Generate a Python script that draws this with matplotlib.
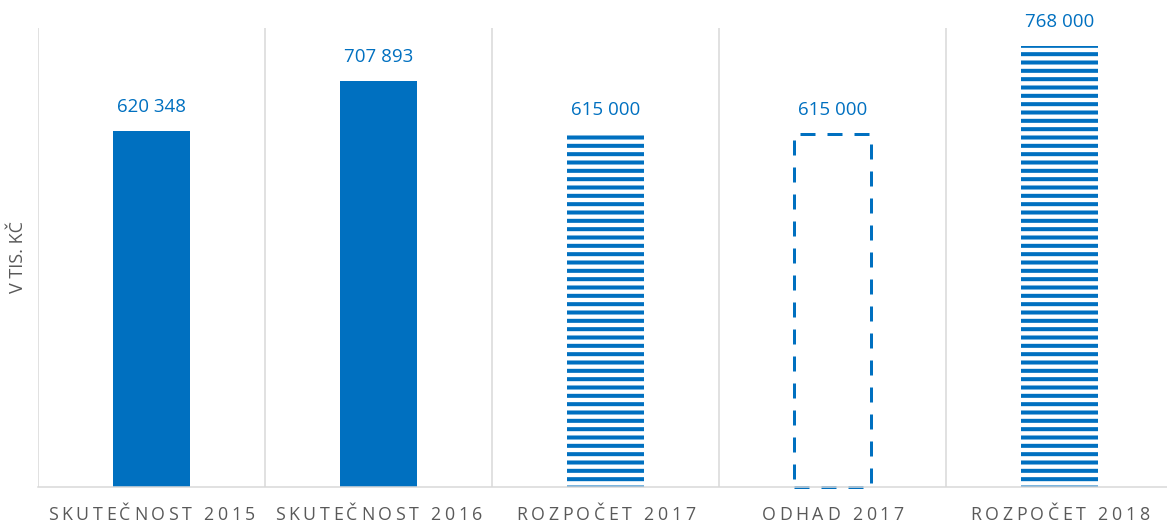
import matplotlib
matplotlib.use("Agg")
import matplotlib.pyplot as plt
from matplotlib.font_manager import FontProperties
from matplotlib.textpath import TextToPath

categories = ["SKUTEČNOST 2015", "SKUTEČNOST 2016", "ROZPOČET 2017", "ODHAD 2017", "ROZPOČET 2018"]
values = [620348, 707893, 615000, 615000, 768000]
value_labels = ["620 348", "707 893", "615 000", "615 000", "768 000"]
styles = ["solid", "solid", "hatch", "dashed", "hatch"]
y_label = "V TIS. KČ"

BLUE = "#0070C0"
GRAY = "#595959"
GRID = "#D9D9D9"
DPI = 100

plt.rcParams['hatch.linewidth'] = 2.9
plt.rcParams['font.family'] = ['Open Sans', 'DejaVu Sans']

fig = plt.figure(figsize=(11.67, 5.24), dpi=DPI)
ax = fig.add_axes([38 / 1167, 1 - 487 / 524, (1173 - 38) / 1167, (487 - 28) / 524])

x = list(range(len(categories)))
width = 0.335
for xi, v, st in zip(x, values, styles):
    if st == "solid":
        ax.bar(xi, v, width=width, color=BLUE, linewidth=0)
    elif st == "hatch":
        ax.bar(xi, v, width=width, facecolor="white", edgecolor=BLUE, hatch="--", linewidth=0)
    else:
        ax.bar(xi, v, width=width, fill=False, edgecolor=BLUE, linewidth=2.16,
               linestyle=(0, (5, 4)), clip_on=False)

for xi, v, lab in zip(x, values, value_labels):
    ax.annotate(lab, xy=(xi, v), xytext=(0, 17.5), textcoords="offset points",
                ha="center", va="center", color=BLUE, fontsize=13.5)

ax.set_xlim(-0.5, len(categories) - 0.5)
ax.set_ylim(0, 800000)
for b in [i - 0.5 for i in range(len(categories) + 1)]:
    ax.axvline(b, color=GRID, linewidth=1.1, zorder=0)

for s in ["top", "right", "left"]:
    ax.spines[s].set_visible(False)
ax.spines["bottom"].set_color(GRID)
ax.spines["bottom"].set_linewidth(1.1)
ax.set_xticks([])
ax.set_yticks([])

# letter-spaced category labels
fs = 12.8
spacing = 2.6  # points
prop = FontProperties(family=['Open Sans'], size=fs)
ttp = TextToPath()
for xi, lab in zip(x, categories):
    widths = []
    for ch in lab:
        if ch == " ":
            w, _, _ = ttp.get_text_width_height_descent("a a", prop, ismath=False)
            w2, _, _ = ttp.get_text_width_height_descent("aa", prop, ismath=False)
            widths.append(w - w2)
        else:
            w, _, _ = ttp.get_text_width_height_descent(ch, prop, ismath=False)
            widths.append(w)
    total = sum(widths) + spacing * (len(lab) - 1)
    pos = -total / 2
    for ch, w in zip(lab, widths):
        if ch != " ":
            ax.annotate(ch, xy=(xi, 0), xycoords=("data", "axes fraction"),
                        xytext=(pos, -20.5), textcoords="offset points",
                        ha="left", va="center", color=GRAY, fontsize=fs,
                        annotation_clip=False)
        pos += w + spacing

fig.text(18 / 1167, 1 - 257 / 524, y_label, rotation=90, ha="center", va="center",
         color=GRAY, fontsize=13)

fig.savefig("out.png", dpi=DPI)
